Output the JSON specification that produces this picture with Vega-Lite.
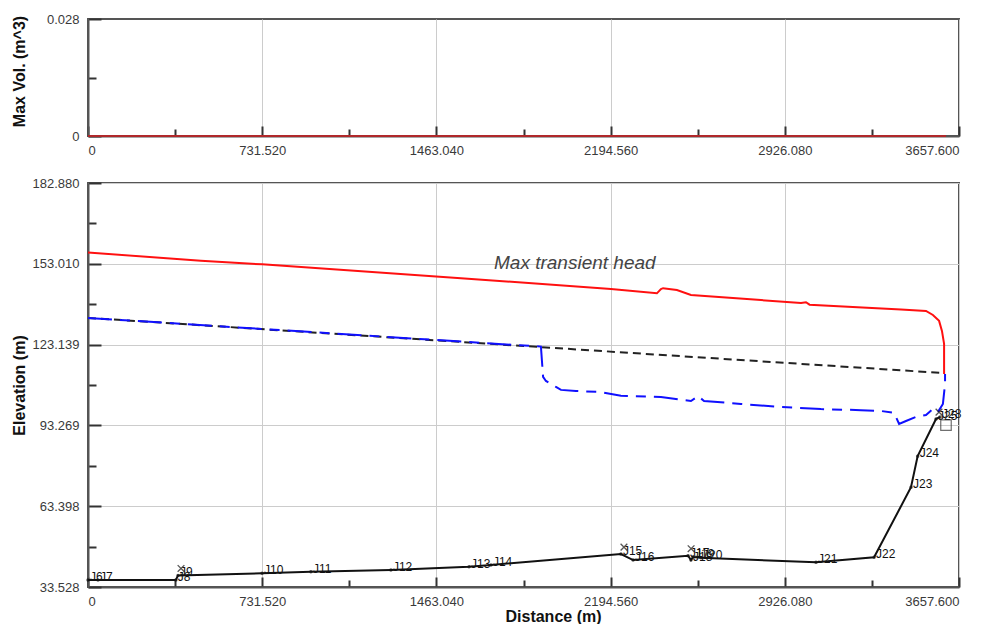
{
  "$schema": "https://vega.github.io/schema/vega-lite/v6.json",
  "background": "white",
  "padding": {"left": 10, "top": 12, "right": 2, "bottom": 0},
  "spacing": 18,
  "config": {
    "font": "Liberation Sans",
    "view": {"stroke": "#555", "strokeWidth": 2},
    "axis": {
      "labelFont": "Liberation Sans",
      "labelFontSize": 13,
      "labelColor": "#3a3a3a",
      "titleFont": "Liberation Sans",
      "titleFontSize": 16,
      "titleFontWeight": "bold",
      "titleColor": "#111",
      "domainColor": "#555",
      "domainWidth": 2,
      "tickColor": "#333",
      "tickWidth": 2,
      "gridColor": "#cccccc",
      "gridWidth": 1
    }
  },
  "datasets": {
    "vol": [{"x": 0, "v": 0}, {"x": 3603, "v": 0}],
    "steady": [{"x": 0, "y": 133.0}, {"x": 3595, "y": 112.6}],
    "maxhead": [
      {"x": 0, "y": 157.2}, {"x": 474, "y": 154.1}, {"x": 731, "y": 152.8}, {"x": 1566, "y": 147.7},
      {"x": 2196, "y": 143.7}, {"x": 2389, "y": 142.1}, {"x": 2406, "y": 143.7}, {"x": 2415, "y": 144.0},
      {"x": 2473, "y": 143.3}, {"x": 2532, "y": 141.5}, {"x": 2826, "y": 139.6}, {"x": 2994, "y": 138.5},
      {"x": 3015, "y": 138.8}, {"x": 3030, "y": 137.9}, {"x": 3414, "y": 136.1}, {"x": 3519, "y": 135.6},
      {"x": 3548, "y": 134.1}, {"x": 3574, "y": 131.9}, {"x": 3586, "y": 128.2}, {"x": 3595, "y": 123.4},
      {"x": 3595, "y": 112.3}
    ],
    "minhead": [
      {"x": 0, "y": 133.0}, {"x": 1902, "y": 122.4}, {"x": 1911, "y": 111.2}, {"x": 1923, "y": 109.7},
      {"x": 1965, "y": 107.5}, {"x": 1986, "y": 106.4}, {"x": 2049, "y": 106.0}, {"x": 2154, "y": 105.6},
      {"x": 2238, "y": 104.2}, {"x": 2406, "y": 103.8}, {"x": 2532, "y": 102.3}, {"x": 2562, "y": 104.1},
      {"x": 2587, "y": 102.3}, {"x": 2742, "y": 101.2}, {"x": 2910, "y": 100.1}, {"x": 3078, "y": 99.3},
      {"x": 3246, "y": 98.9}, {"x": 3330, "y": 98.6}, {"x": 3385, "y": 97.9}, {"x": 3406, "y": 93.8},
      {"x": 3435, "y": 94.9}, {"x": 3477, "y": 96.4}, {"x": 3519, "y": 97.1}, {"x": 3548, "y": 99.3},
      {"x": 3569, "y": 98.2}, {"x": 3590, "y": 101.2}, {"x": 3599, "y": 108.6}, {"x": 3599, "y": 112.3}
    ],
    "profile": [
      {"order": 1, "name": "J6", "x": 0, "y": 36.1, "valve": false},
      {"order": 2, "name": "J7", "x": 42, "y": 36.1, "valve": false},
      {"order": 3, "name": "J8", "x": 369, "y": 36.1, "valve": false},
      {"order": 4, "name": "J9", "x": 378, "y": 37.8, "valve": true},
      {"order": 5, "name": "J10", "x": 731, "y": 38.6, "valve": false},
      {"order": 6, "name": "J11", "x": 936, "y": 39.2, "valve": false},
      {"order": 7, "name": "J12", "x": 1272, "y": 39.8, "valve": false},
      {"order": 8, "name": "J13", "x": 1600, "y": 41.0, "valve": false},
      {"order": 9, "name": "J14", "x": 1692, "y": 41.7, "valve": false},
      {"order": 10, "name": "J15", "x": 2238, "y": 45.7, "valve": true},
      {"order": 11, "name": "J16", "x": 2289, "y": 43.5, "valve": false},
      {"order": 12, "name": "J17", "x": 2520, "y": 45.1, "valve": true},
      {"order": 13, "name": "J18", "x": 2532, "y": 43.5, "valve": false},
      {"order": 14, "name": "J19", "x": 2541, "y": 44.6, "valve": false},
      {"order": 15, "name": "J20", "x": 2574, "y": 44.3, "valve": false},
      {"order": 16, "name": "J21", "x": 3057, "y": 42.7, "valve": false},
      {"order": 17, "name": "J22", "x": 3301, "y": 44.5, "valve": false},
      {"order": 18, "name": "J23", "x": 3456, "y": 70.4, "valve": false},
      {"order": 19, "name": "J24", "x": 3484, "y": 81.9, "valve": false},
      {"order": 20, "name": "J25", "x": 3561, "y": 95.6, "valve": true},
      {"order": 21, "name": "J28", "x": 3578, "y": 96.4, "valve": false}
    ],
    "tank": [{"x": 3603, "y": 93.4}],
    "notes": [{"x": 1705, "y": 153.2, "text": "Max transient head"}]
  },
  "vconcat": [
    {
      "width": 871,
      "height": 117,
      "layer": [
        {
          "data": {"name": "vol"},
          "mark": {"type": "line", "color": "#b0282a", "strokeWidth": 2},
          "encoding": {
            "x": {
              "field": "x", "type": "quantitative",
              "scale": {"domain": [0, 3657.6], "nice": false, "zero": false},
              "axis": {
                "title": null,
                "values": [0, 365.76, 731.52, 1097.28, 1463.04, 1828.8, 2194.56, 2560.32, 2926.08, 3291.84, 3657.6],
                "labelExpr": "abs(datum.value/731.52 - round(datum.value/731.52)) < 0.01 ? (datum.value == 0 ? '0' : format(datum.value, '.3f')) : ''",
                "grid": true,
                "gridOpacity": {"condition": {"test": "abs(datum.value/731.52 - round(datum.value/731.52)) < 0.01", "value": 1}, "value": 0},
                "tickSize": {"condition": {"test": "abs(datum.value/731.52 - round(datum.value/731.52)) < 0.01", "value": -10}, "value": -7},
                "labelPadding": 18
              }
            },
            "y": {
              "field": "v", "type": "quantitative",
              "scale": {"domain": [0, 0.028], "nice": false},
              "axis": {
                "title": "Max Vol. (m^3)",
                "titleX": -61,
                "titleY": 52,
                "values": [0, 0.014, 0.028],
                "labelExpr": "datum.value == 0.014 ? '' : (datum.value == 0 ? '0' : format(datum.value, '.3f'))",
                "grid": false,
                "tickSize": {"condition": {"test": "datum.value == 0.014", "value": -8}, "value": -13},
                "labelPadding": 22
              }
            }
          }
        }
      ]
    },
    {
      "width": 871,
      "height": 404,
      "layer": [
        {
          "data": {"name": "steady"},
          "mark": {"type": "line", "color": "#222222", "strokeWidth": 2, "strokeDash": [8, 5]},
          "encoding": {
            "x": {
              "field": "x", "type": "quantitative",
              "scale": {"domain": [0, 3657.6], "nice": false, "zero": false},
              "axis": {
                "title": "Distance (m)",
                "titleFontSize": 16,
                "titleX": 465,
                "titlePadding": 0,
                "values": [0, 365.76, 731.52, 1097.28, 1463.04, 1828.8, 2194.56, 2560.32, 2926.08, 3291.84, 3657.6],
                "labelExpr": "abs(datum.value/731.52 - round(datum.value/731.52)) < 0.01 ? (datum.value == 0 ? '0' : format(datum.value, '.3f')) : ''",
                "grid": true,
                "gridOpacity": {"condition": {"test": "abs(datum.value/731.52 - round(datum.value/731.52)) < 0.01", "value": 1}, "value": 0},
                "tickSize": {"condition": {"test": "abs(datum.value/731.52 - round(datum.value/731.52)) < 0.01", "value": -10}, "value": -7},
                "labelPadding": 18
              }
            },
            "y": {
              "field": "y", "type": "quantitative",
              "scale": {"domain": [33.528, 182.88], "nice": false, "zero": false},
              "axis": {
                "title": "Elevation (m)",
                "titleX": -61,
                "values": [33.528, 48.4632, 63.3984, 78.3336, 93.2688, 108.204, 123.1392, 138.0744, 153.0096, 167.9448, 182.88],
                "labelExpr": "abs((datum.value-33.528)/29.8704 - round((datum.value-33.528)/29.8704)) < 0.01 ? format(datum.value, '.3f') : ''",
                "grid": true,
                "gridOpacity": {"condition": {"test": "abs((datum.value-33.528)/29.8704 - round((datum.value-33.528)/29.8704)) < 0.01", "value": 1}, "value": 0},
                "tickSize": {"condition": {"test": "abs((datum.value-33.528)/29.8704 - round((datum.value-33.528)/29.8704)) < 0.01", "value": -13}, "value": -8},
                "labelPadding": 22
              }
            }
          }
        },
        {
          "data": {"name": "minhead"},
          "mark": {"type": "line", "color": "#1010ff", "strokeWidth": 2, "strokeDash": [24, 8, 10, 8]},
          "encoding": {
            "x": {"field": "x", "type": "quantitative"},
            "y": {"field": "y", "type": "quantitative"}
          }
        },
        {
          "data": {"name": "maxhead"},
          "mark": {"type": "line", "color": "#ff1010", "strokeWidth": 2},
          "encoding": {
            "x": {"field": "x", "type": "quantitative"},
            "y": {"field": "y", "type": "quantitative"}
          }
        },
        {
          "data": {"name": "profile"},
          "mark": {"type": "line", "color": "#111111", "strokeWidth": 2},
          "encoding": {
            "x": {"field": "x", "type": "quantitative"},
            "y": {"field": "y", "type": "quantitative"},
            "order": {"field": "order"}
          }
        },
        {
          "data": {"name": "profile"},
          "mark": {"type": "point", "filled": true, "color": "#111111", "size": 12},
          "encoding": {
            "x": {"field": "x", "type": "quantitative"},
            "y": {"field": "y", "type": "quantitative"}
          }
        },
        {
          "data": {"name": "profile"},
          "transform": [{"filter": "datum.valve"}],
          "mark": {"type": "point", "shape": "M-1,-1L1,1M-1,1L1,-1", "filled": false, "color": "#111111", "size": 45, "strokeWidth": 1.3, "xOffset": 3, "yOffset": -7},
          "encoding": {
            "x": {"field": "x", "type": "quantitative"},
            "y": {"field": "y", "type": "quantitative"}
          }
        },
        {
          "data": {"name": "profile"},
          "mark": {"type": "text", "align": "left", "baseline": "middle", "dx": 2, "dy": -3, "fontSize": 12, "color": "#111111", "font": "Liberation Sans"},
          "encoding": {
            "x": {"field": "x", "type": "quantitative"},
            "y": {"field": "y", "type": "quantitative"},
            "text": {"field": "name"}
          }
        },
        {
          "data": {"name": "tank"},
          "mark": {"type": "point", "shape": "square", "filled": false, "color": "#333333", "size": 110, "strokeWidth": 1.2},
          "encoding": {
            "x": {"field": "x", "type": "quantitative"},
            "y": {"field": "y", "type": "quantitative"}
          }
        },
        {
          "data": {"name": "notes"},
          "mark": {"type": "text", "align": "left", "baseline": "middle", "fontSize": 19, "fontStyle": "italic", "color": "#444444", "font": "Liberation Sans"},
          "encoding": {
            "x": {"field": "x", "type": "quantitative"},
            "y": {"field": "y", "type": "quantitative"},
            "text": {"field": "text"}
          }
        }
      ]
    }
  ]
}
